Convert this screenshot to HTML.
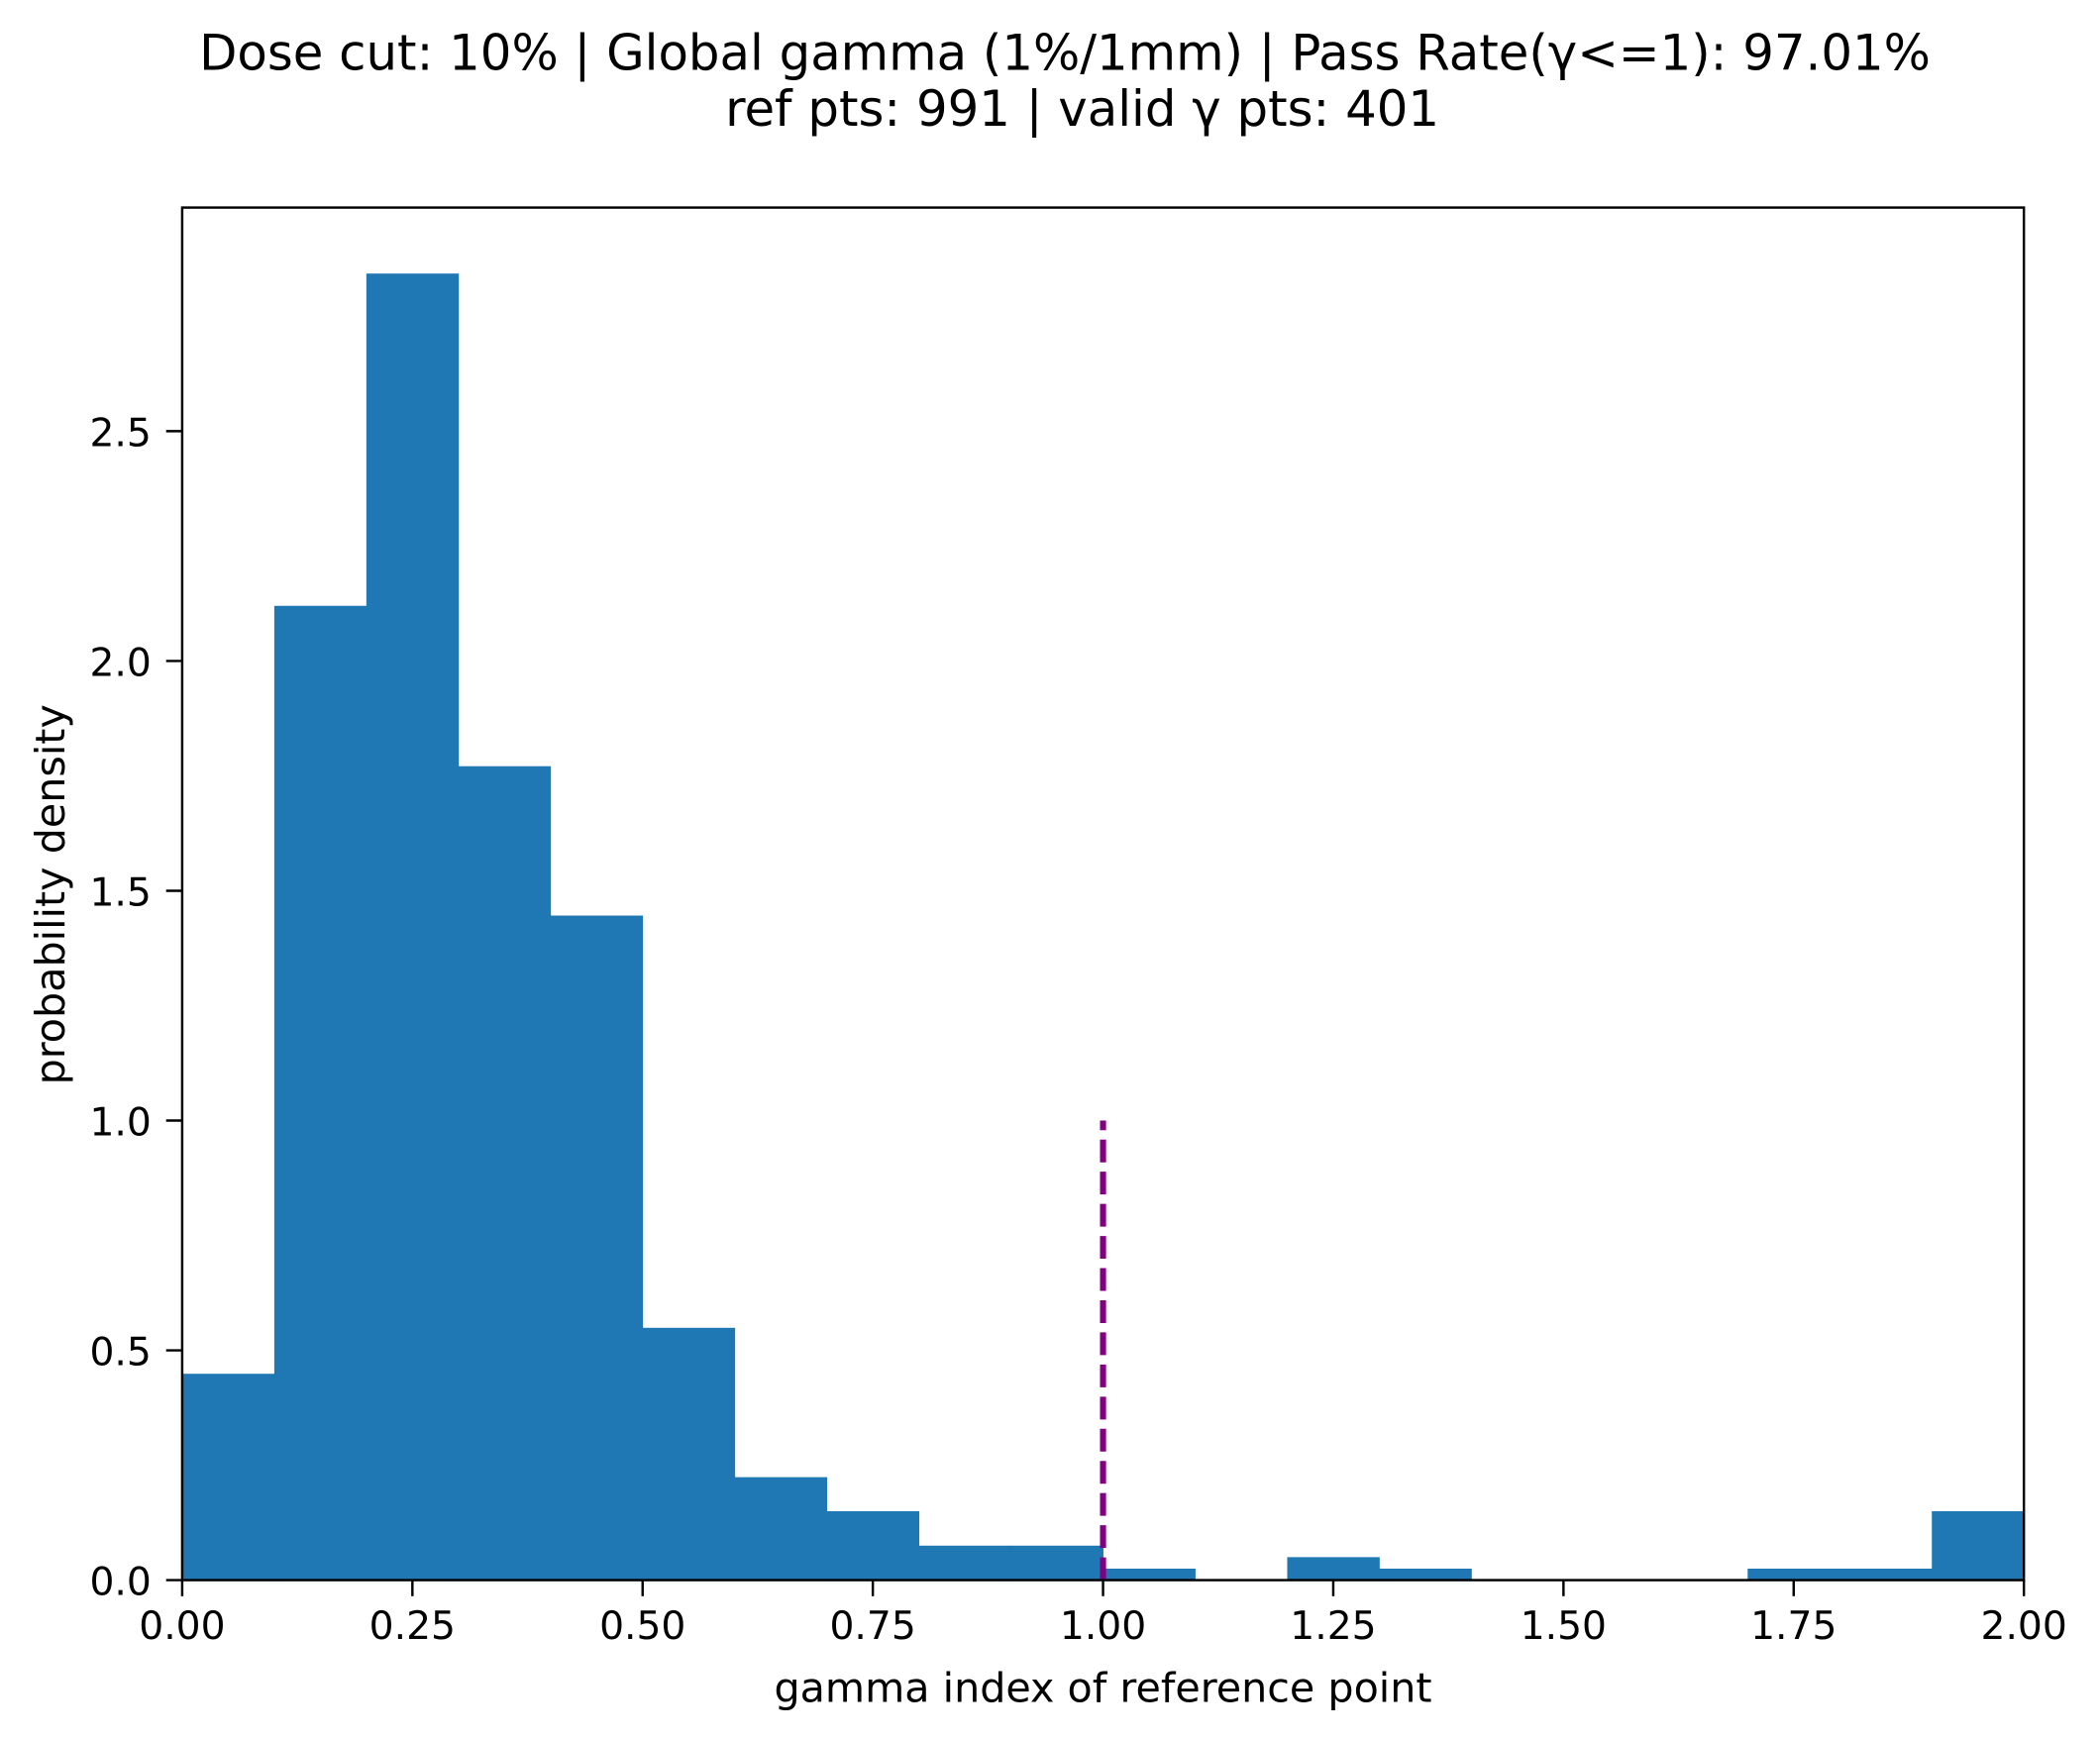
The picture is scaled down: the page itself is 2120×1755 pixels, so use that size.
<!DOCTYPE html>
<html><head><meta charset="utf-8"><style>html,body{margin:0;padding:0;background:#fff}svg{display:block}text{font-family:"DejaVu Sans","Liberation Sans",sans-serif;fill:#000}</style></head>
<body>
<svg id="chart" width="2120" height="1755" viewBox="0 0 1567.8 1297.9" xmlns="http://www.w3.org/2000/svg">
<rect width="1567.8" height="1297.9" fill="#fff"/>
<text x="795" y="52" font-size="36.8" text-anchor="middle">Dose cut: 10% | Global gamma (1%/1mm) | Pass Rate(γ&lt;=1): 97.01%</text>
<text x="808" y="94" font-size="36.8" text-anchor="middle">ref pts: 991 | valid γ pts: 401</text>
<g id="bars"></g>
<g id="axes"></g>
<text x="823.5" y="1271" font-size="30.5" text-anchor="middle">gamma index of reference point</text>
<text transform="translate(48,668) rotate(-90)" font-size="30.5" text-anchor="middle">probability density</text>
</svg>
<script>
const binEdgesStart = [0,0.1,0.2,0.3,0.4,0.5,0.6,0.7,0.8,0.9,1.0,1.1,1.2,1.3,1.4,1.5,1.6,1.7,1.8,1.9];
const densities = [0.449,2.12,2.843,1.771,1.446,0.549,0.224,0.15,0.075,0.075,0.025,0,0.05,0.025,0,0,0,0.025,0.025,0.15];
const binWidth = 0.1;
const xTicks = [0,0.25,0.5,0.75,1.0,1.25,1.5,1.75,2.0];
const xTickLabels = ["0.00","0.25","0.50","0.75","1.00","1.25","1.50","1.75","2.00"];
const yTicks = [0,0.5,1.0,1.5,2.0,2.5];
const yTickLabels = ["0.0","0.5","1.0","1.5","2.0","2.5"];
const thresholdX = [1.0];
const thresholdY = [0,1.0];

const L=136,R=1511,T=155,B=1180,XMAX=2,YMAX=(B-T)/343.2;
const sx=v=>L+(v/XMAX)*(R-L);
const sy=v=>B-(v/YMAX)*(B-T);
const NS="http://www.w3.org/2000/svg";
function mk(tag,attrs,parent){const e=document.createElementNS(NS,tag);for(const k in attrs)e.setAttribute(k,attrs[k]);parent.appendChild(e);return e;}
const bars=document.getElementById('bars');
binEdgesStart.forEach((x0,i)=>{
  const d=densities[i]; if(d<=0) return;
  const r=mk('rect',{x:sx(x0),y:sy(d),width:sx(x0+binWidth)-sx(x0)+0.3,height:B-sy(d),fill:'#1f77b4'},bars);
  
  
});
const ax=document.getElementById('axes');
const ln=mk('line',{x1:sx(thresholdX[0]),x2:sx(thresholdX[0]),y1:sy(thresholdY[0]),y2:sy(thresholdY[1]),stroke:'#800080','stroke-width':4.5,'stroke-dasharray':'17 7'},ax);


const frame=mk('rect',{x:L,y:T,width:R-L,height:B-T,fill:'none',stroke:'#000','stroke-width':1.8},ax);


xTicks.forEach((v,i)=>{
  const x=sx(v);
  const t=mk('line',{x1:x,x2:x,y1:B,y2:B+12,stroke:'#000','stroke-width':1.8},ax);
  
  
  const tx=mk('text',{x:x,y:B+44,'font-size':29,'text-anchor':'middle'},ax);
  tx.textContent=xTickLabels[i];
  
  
});
yTicks.forEach((v,i)=>{
  const y=sy(v);
  const t=mk('line',{x1:L-12,x2:L,y1:y,y2:y,stroke:'#000','stroke-width':1.8},ax);
  
  
  const tx=mk('text',{x:L-23,y:y+11,'font-size':29,'text-anchor':'end'},ax);
  tx.textContent=yTickLabels[i];
  
  
});
</script>
</body></html>
